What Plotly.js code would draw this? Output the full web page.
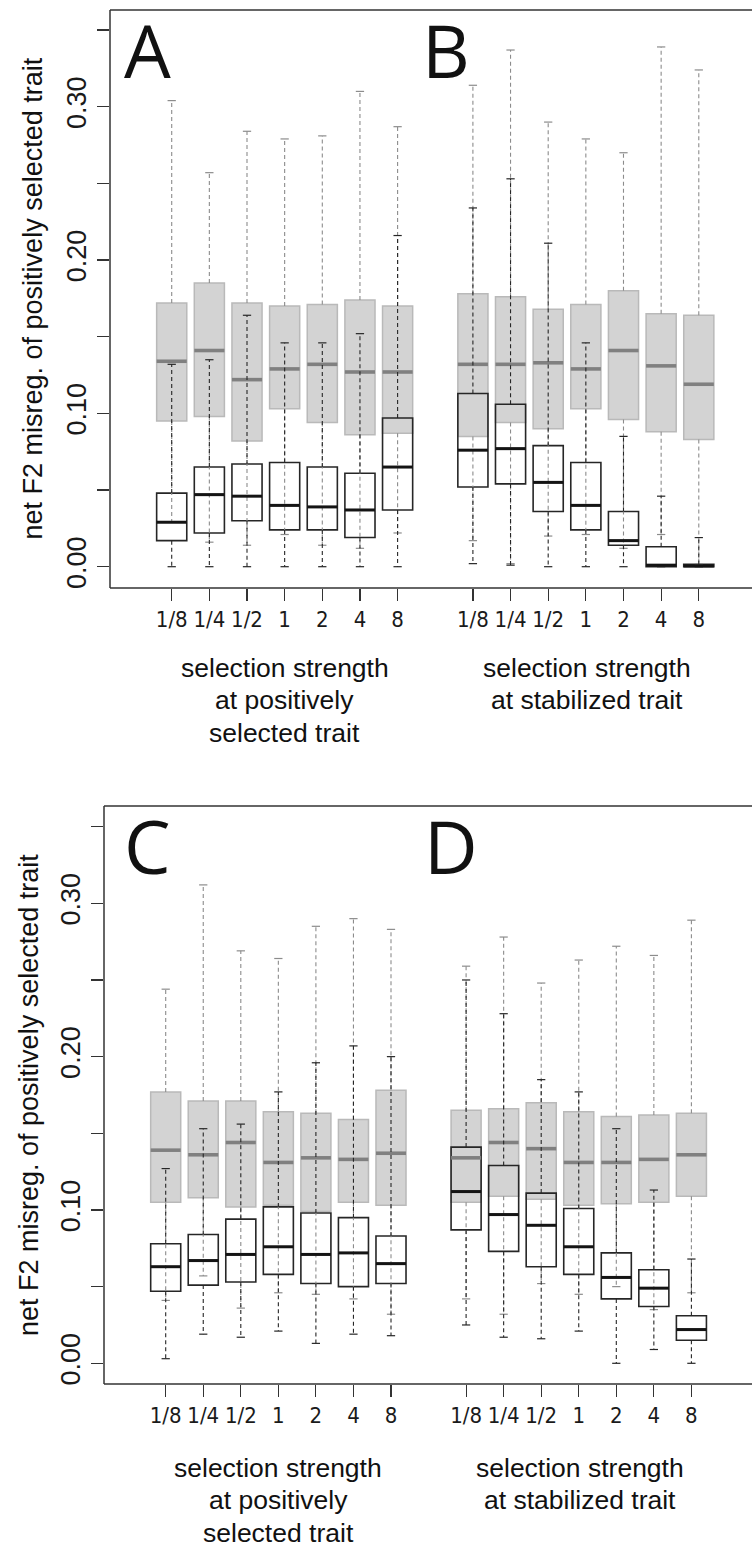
<!DOCTYPE html>
<html><head><meta charset="utf-8">
<script src="https://cdn.plot.ly/plotly-3.0.1.min.js"></script>
<style>html,body{margin:0;padding:0;background:#fff;overflow:hidden;width:752px}</style>
</head><body><div id="chart" style="width:762px;height:1550px"></div>
<script>
// ---------- data ----------
const categories = ['1/8','1/4','1/2','1','2','4','8'];
const yTickValues = [0,0.05,0.10,0.15,0.20,0.25,0.30,0.35];
const yTickLabels = ['0.00','','0.10','','0.20','','0.30',''];
const panelLetters = ['A','B','C','D'];
const xTitleLeft = ['selection strength','at positively','selected trait'];
const xTitleRight = ['selection strength','at stabilized trait'];
const yTitle = 'net F2 misreg. of positively selected trait';

// Panel A (grey boxes)
const A_grey_hi  = [0.304,0.257,0.284,0.279,0.281,0.310,0.287];
const A_grey_q3  = [0.172,0.185,0.172,0.170,0.171,0.174,0.170];
const A_grey_med = [0.134,0.141,0.122,0.129,0.132,0.127,0.127];
const A_grey_q1  = [0.095,0.098,0.082,0.103,0.094,0.086,0.087];
const A_grey_lo  = [0.029,0.016,0.014,0.021,0.014,0.012,0.022];
// Panel A (white boxes)
const A_white_hi  = [0.132,0.135,0.164,0.146,0.146,0.152,0.216];
const A_white_q3  = [0.048,0.065,0.067,0.068,0.065,0.061,0.097];
const A_white_med = [0.029,0.047,0.046,0.040,0.039,0.037,0.065];
const A_white_q1  = [0.017,0.022,0.030,0.024,0.024,0.019,0.037];
const A_white_lo  = [0.000,0.000,0.000,0.000,0.000,0.000,0.000];

// Panel B
const B_grey_hi  = [0.314,0.337,0.290,0.279,0.270,0.339,0.324];
const B_grey_q3  = [0.178,0.176,0.168,0.171,0.180,0.165,0.164];
const B_grey_med = [0.132,0.132,0.133,0.129,0.141,0.131,0.119];
const B_grey_q1  = [0.085,0.094,0.090,0.103,0.096,0.088,0.083];
const B_grey_lo  = [0.017,0.002,0.020,0.021,0.012,0.021,0.002];
const B_white_hi  = [0.234,0.253,0.211,0.146,0.085,0.046,0.019];
const B_white_q3  = [0.113,0.106,0.079,0.068,0.036,0.013,0.0015];
const B_white_med = [0.076,0.077,0.055,0.040,0.017,0.001,0.0005];
const B_white_q1  = [0.052,0.054,0.036,0.024,0.014,0.000,0.000];
const B_white_lo  = [0.002,0.001,0.000,0.000,0.000,0.000,0.000];

// Panel C
const C_grey_hi  = [0.244,0.312,0.269,0.264,0.285,0.290,0.283];
const C_grey_q3  = [0.177,0.171,0.171,0.164,0.163,0.159,0.178];
const C_grey_med = [0.139,0.136,0.144,0.131,0.134,0.133,0.137];
const C_grey_q1  = [0.105,0.108,0.102,0.103,0.099,0.105,0.103];
const C_grey_lo  = [0.041,0.057,0.036,0.046,0.045,0.042,0.032];
const C_white_hi  = [0.127,0.153,0.156,0.177,0.196,0.207,0.200];
const C_white_q3  = [0.078,0.084,0.094,0.102,0.098,0.095,0.083];
const C_white_med = [0.063,0.067,0.071,0.076,0.071,0.072,0.065];
const C_white_q1  = [0.047,0.051,0.053,0.058,0.052,0.050,0.052];
const C_white_lo  = [0.003,0.019,0.017,0.021,0.013,0.019,0.018];

// Panel D
const D_grey_hi  = [0.259,0.278,0.248,0.263,0.272,0.266,0.289];
const D_grey_q3  = [0.165,0.166,0.170,0.164,0.161,0.162,0.163];
const D_grey_med = [0.134,0.144,0.140,0.131,0.131,0.133,0.136];
const D_grey_q1  = [0.105,0.109,0.107,0.103,0.104,0.105,0.109];
const D_grey_lo  = [0.042,0.032,0.052,0.045,0.050,0.035,0.046];
const D_white_hi  = [0.250,0.228,0.185,0.177,0.153,0.113,0.068];
const D_white_q3  = [0.141,0.129,0.111,0.101,0.072,0.061,0.031];
const D_white_med = [0.112,0.097,0.090,0.076,0.056,0.049,0.022];
const D_white_q1  = [0.087,0.073,0.063,0.058,0.042,0.037,0.015];
const D_white_lo  = [0.025,0.017,0.016,0.021,0.000,0.009,0.000];

// ---------- drawing ----------
const posLeft  = categories.map((c,i)=>i+1);
const posRight = categories.map((c,i)=>i+9);
const posAll = posLeft.concat(posRight);
const tickTextAll = categories.concat(categories);

const BOX_W = 0.8, CAP_HW = 0.11, MED_HW = 0.4;
const GREY_FILL = '#d3d3d3', GREY_LINE = '#b9b9b9', GREY_WHISK = '#8c8c8c', GREY_MED = '#808080';
const BLACK = '#262626';

function vSegs(pos, a, b){
  const x=[], y=[];
  pos.forEach((p,i)=>{ x.push(p,p,null); y.push(a[i],b[i],null); });
  return {x,y};
}
function hSegs(pos, v, hw){
  const x=[], y=[];
  pos.forEach((p,i)=>{ x.push(p-hw,p+hw,null); y.push(v[i],v[i],null); });
  return {x,y};
}
function concatSegs(s1,s2){ return {x:s1.x.concat(s2.x), y:s1.y.concat(s2.y)}; }

const traces = [];
function addSet(xa, ya, pos, q1, med, q3, lo, hi, kind){
  const grey = kind==='grey';
  traces.push({
    type:'box', xaxis:xa, yaxis:ya, x:pos, q1:q1, median:med, q3:q3,
    lowerfence:q1, upperfence:q3, width:BOX_W, whiskerwidth:0,
    boxpoints:false, hoverinfo:'skip', showlegend:false,
    fillcolor: grey ? GREY_FILL : 'rgba(0,0,0,0)',
    line:{color: grey ? GREY_LINE : BLACK, width: grey ? 1.5 : 1.6}
  });
}
function addLines(xa, ya, pos, q1, med, q3, lo, hi, kind){
  const grey = kind==='grey';
  const col = grey ? GREY_WHISK : BLACK;
  const w = concatSegs(vSegs(pos,q3,hi), vSegs(pos,q1,lo));
  traces.push({type:'scatter', mode:'lines', xaxis:xa, yaxis:ya, x:w.x, y:w.y,
    line:{color:col, width:1.1, dash:'4px,3px'}, hoverinfo:'skip', showlegend:false});
  const c = concatSegs(hSegs(pos,hi,CAP_HW), hSegs(pos,lo,CAP_HW));
  traces.push({type:'scatter', mode:'lines', xaxis:xa, yaxis:ya, x:c.x, y:c.y,
    line:{color:col, width:1.2}, hoverinfo:'skip', showlegend:false});
  const m = hSegs(pos,med,MED_HW);
  traces.push({type:'scatter', mode:'lines', xaxis:xa, yaxis:ya, x:m.x, y:m.y,
    line:{color: grey ? GREY_MED : '#141414', width: grey ? 3.6 : 3}, hoverinfo:'skip', showlegend:false});
}

addSet('x','y',posLeft, A_grey_q1,A_grey_med,A_grey_q3,A_grey_lo,A_grey_hi,'grey');
addSet('x','y',posRight,B_grey_q1,B_grey_med,B_grey_q3,B_grey_lo,B_grey_hi,'grey');
addSet('x2','y2',posLeft, C_grey_q1,C_grey_med,C_grey_q3,C_grey_lo,C_grey_hi,'grey');
addSet('x2','y2',posRight,D_grey_q1,D_grey_med,D_grey_q3,D_grey_lo,D_grey_hi,'grey');
addSet('x','y',posLeft, A_white_q1,A_white_med,A_white_q3,A_white_lo,A_white_hi,'white');
addSet('x','y',posRight,B_white_q1,B_white_med,B_white_q3,B_white_lo,B_white_hi,'white');
addSet('x2','y2',posLeft, C_white_q1,C_white_med,C_white_q3,C_white_lo,C_white_hi,'white');
addSet('x2','y2',posRight,D_white_q1,D_white_med,D_white_q3,D_white_lo,D_white_hi,'white');
addLines('x','y',posLeft, A_grey_q1,A_grey_med,A_grey_q3,A_grey_lo,A_grey_hi,'grey');
addLines('x','y',posRight,B_grey_q1,B_grey_med,B_grey_q3,B_grey_lo,B_grey_hi,'grey');
addLines('x2','y2',posLeft, C_grey_q1,C_grey_med,C_grey_q3,C_grey_lo,C_grey_hi,'grey');
addLines('x2','y2',posRight,D_grey_q1,D_grey_med,D_grey_q3,D_grey_lo,D_grey_hi,'grey');
addLines('x','y',posLeft, A_white_q1,A_white_med,A_white_q3,A_white_lo,A_white_hi,'white');
addLines('x','y',posRight,B_white_q1,B_white_med,B_white_q3,B_white_lo,B_white_hi,'white');
addLines('x2','y2',posLeft, C_white_q1,C_white_med,C_white_q3,C_white_lo,C_white_hi,'white');
addLines('x2','y2',posRight,D_white_q1,D_white_med,D_white_q3,D_white_lo,D_white_hi,'white');

// The figure is drawn 10px wider than the window, so the plot frame runs off the right edge as in the reference.
const W = 762, H = 1550;
const px = v => v / W;
const py = v => 1 - v / H;

const tickFontX = {family:'"Liberation Sans Narrow", "Arial Narrow", "DejaVu Sans Condensed", sans-serif', size:22, color:'#1a1a1a'};
const tickFontY = {family:'"Liberation Sans", Arial, sans-serif', size:27, color:'#1a1a1a'};
const LINE_COL = '#333333';

function xAxis(domL, range, anchor){
  return {domain:[px(domL),1], range:range, anchor:anchor, showline:false,
    ticks:'outside', ticklen:12, tickwidth:1.2, tickcolor:LINE_COL,
    tickmode:'array', tickvals:posAll, ticktext:tickTextAll, tickfont:tickFontX,
    showgrid:false, zeroline:false, fixedrange:true};
}
function yAxis(domTop, domBot, range, anchor){
  return {domain:[py(domBot), py(domTop)], range:range, anchor:anchor, showline:false,
    ticks:'outside', ticklen:12, tickwidth:1.2, tickcolor:LINE_COL,
    tickmode:'array', tickvals:yTickValues, ticktext:yTickLabels, tickangle:-90, tickfont:tickFontY,
    showgrid:false, zeroline:false, fixedrange:true};
}

// frame: left, top and bottom lines
const shapes = [];
function frame(left, top, bottom){
  const ln = {color:LINE_COL, width:1.5};
  shapes.push({type:'line', xref:'paper', yref:'paper', x0:px(left), x1:px(left), y0:py(top), y1:py(bottom), line:ln});
  shapes.push({type:'line', xref:'paper', yref:'paper', x0:px(left), x1:1, y0:py(top), y1:py(top), line:ln});
  shapes.push({type:'line', xref:'paper', yref:'paper', x0:px(left), x1:1, y0:py(bottom), y1:py(bottom), line:ln});
}
frame(110, 10, 588);
frame(104, 806, 1384);

const annFont = {family:'"Liberation Sans", Arial, sans-serif', size:26.5, color:'#111'};
const letterFont = {family:'"Open Sans", "Noto Sans", sans-serif', size:74, color:'#111'};
const annotations = [];
function ann(text, x, y, font, extra){
  annotations.push(Object.assign({text:text, xref:'paper', yref:'paper', x:px(x), y:py(y),
    showarrow:false, font:font, xanchor:'center', yanchor:'middle'}, extra||{}));
}
ann(panelLetters[0], 122, 50, letterFont, {xanchor:'left'});
ann(panelLetters[1], 420, 50, letterFont, {xanchor:'left'});
ann(panelLetters[2], 122, 845, letterFont, {xanchor:'left'});
ann(panelLetters[3], 422, 845, letterFont, {xanchor:'left'});
const yTitleFont = Object.assign({}, annFont, {size:27});
ann(yTitle, 32.5, 299, yTitleFont, {textangle:-90});
ann(yTitle, 29, 1095, yTitleFont, {textangle:-90});
const topBase = [676.7, 708.3, 741.7];
const botBase = [1476.7, 1508.3, 1541.7];
const off = 8.8;
xTitleLeft.forEach((t,i)=>ann(t, 284.7, topBase[i]-off, annFont));
xTitleRight.forEach((t,i)=>ann(t, 586.5, topBase[i]-off, annFont));
xTitleLeft.forEach((t,i)=>ann(t, 278.3, botBase[i]-off, annFont));
xTitleRight.forEach((t,i)=>ann(t, 579.5, botBase[i]-off, annFont));

const layout = {
  width:W, height:H, margin:{l:0,r:0,t:0,b:0}, paper_bgcolor:'#fff', plot_bgcolor:'#fff',
  showlegend:false, hovermode:false, boxmode:'overlay',
  xaxis: xAxis(110, [-0.639, 16.679], 'y'),
  yaxis: yAxis(10, 588, [-0.01389, 0.3631], 'x'),
  xaxis2: xAxis(104, [-0.643, 16.880], 'y2'),
  yaxis2: yAxis(806, 1384, [-0.0135, 0.36346], 'x2'),
  shapes: shapes,
  annotations: annotations
};
Plotly.newPlot('chart', traces, layout, {staticPlot:true, displayModeBar:false});
</script></body></html>
